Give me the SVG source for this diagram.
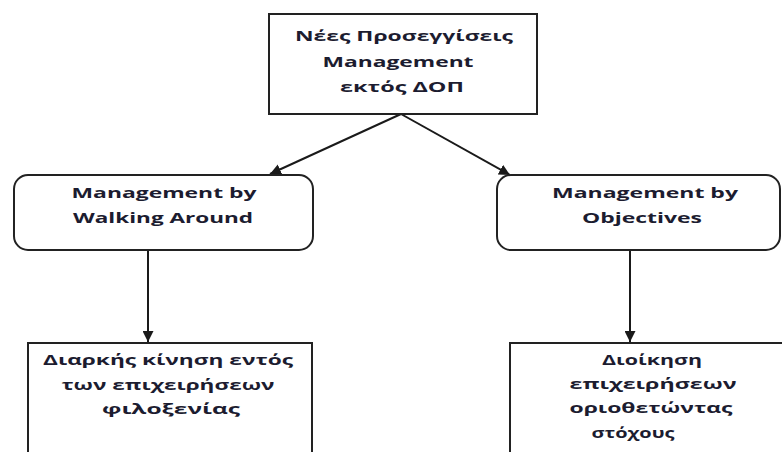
<svg xmlns="http://www.w3.org/2000/svg" width="782" height="452" viewBox="0 0 782 452">
  <defs>
    <marker id="arrow" viewBox="0 0 10 10" refX="10" refY="5" markerWidth="5.5" markerHeight="5.5" orient="auto" markerUnits="strokeWidth">
      <path d="M0,0 L10,5 L0,10 z" fill="#1a1a1a"/>
    </marker>
    <style>
      .box { fill: #ffffff; stroke: #222222; stroke-width: 2; }
      .lbl { font-family: "Open Sans", "Liberation Sans", sans-serif; font-weight: bold; font-size: 15px; fill: #1c1c30; text-anchor: middle; }
      .edge { stroke: #1a1a1a; stroke-width: 2; fill: none; marker-end: url(#arrow); }
    </style>
  </defs>
  <rect width="782" height="452" fill="#ffffff"/>

  <g id="connectors">
    <line class="edge" x1="401" y1="114" x2="270" y2="174"/>
    <line class="edge" x1="401" y1="114" x2="510" y2="175"/>
    <line class="edge" x1="148" y1="250" x2="148" y2="342"/>
    <line class="edge" x1="630" y1="250" x2="630" y2="342"/>
  </g>

  <g id="root">
    <rect class="box" x="269" y="14" width="268" height="100"/>
    <text class="lbl" x="404" y="41" textLength="218" lengthAdjust="spacingAndGlyphs">Νέες Προσεγγίσεις</text>
    <text class="lbl" x="398" y="67" textLength="151" lengthAdjust="spacingAndGlyphs">Management</text>
    <text class="lbl" x="402" y="92" textLength="124" lengthAdjust="spacingAndGlyphs">εκτός ΔΟΠ</text>
  </g>

  <g id="mbwa">
    <rect class="box" x="14" y="175" width="299" height="75" rx="14" ry="14"/>
    <text class="lbl" x="164" y="198" textLength="185" lengthAdjust="spacingAndGlyphs">Management by</text>
    <text class="lbl" x="163" y="223" textLength="180" lengthAdjust="spacingAndGlyphs">Walking Around</text>
  </g>

  <g id="mbo">
    <rect class="box" x="497" y="175" width="283" height="75" rx="14" ry="14"/>
    <text class="lbl" x="645" y="198" textLength="186" lengthAdjust="spacingAndGlyphs">Management by</text>
    <text class="lbl" x="642" y="223" textLength="120" lengthAdjust="spacingAndGlyphs">Objectives</text>
  </g>

  <g id="mbwa-detail">
    <rect class="box" x="28" y="343" width="284" height="130"/>
    <text class="lbl" x="168" y="365" textLength="250" lengthAdjust="spacingAndGlyphs">Διαρκής κίνηση εντός</text>
    <text class="lbl" x="168" y="390" textLength="213" lengthAdjust="spacingAndGlyphs">των επιχειρήσεων</text>
    <text class="lbl" x="171" y="414" textLength="138" lengthAdjust="spacingAndGlyphs">φιλοξενίας</text>
  </g>

  <g id="mbo-detail">
    <rect class="box" x="510" y="343" width="290" height="130"/>
    <text class="lbl" x="652" y="365" textLength="100" lengthAdjust="spacingAndGlyphs">Διοίκηση</text>
    <text class="lbl" x="653" y="389" textLength="167" lengthAdjust="spacingAndGlyphs">επιχειρήσεων</text>
    <text class="lbl" x="651" y="413" textLength="163" lengthAdjust="spacingAndGlyphs">οριοθετώντας</text>
    <text class="lbl" x="633" y="438" textLength="83" lengthAdjust="spacingAndGlyphs">στόχους</text>
  </g>
</svg>
